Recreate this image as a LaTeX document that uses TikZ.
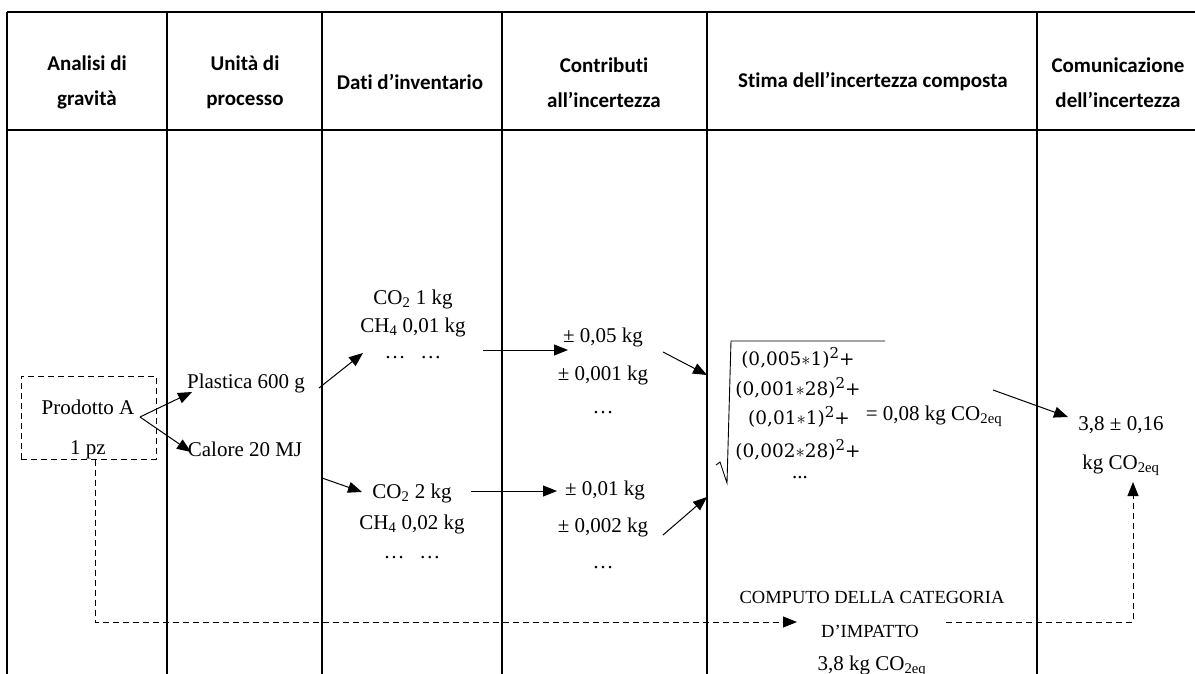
\RequirePackage{fix-cm}
\documentclass[tikz,border=0pt]{standalone}
\usepackage{fontspec}
\setmainfont{Liberation Serif}
\newfontfamily\hdfont[Ligatures=NoCommon]{Carlito}
\newfontfamily\formfont{DejaVu Serif}
\usetikzlibrary{arrows.meta,calc}
% squared exponent for the terms under the root
\newcommand\sqexp{{\fontsize{15}{15}\selectfont\raisebox{7pt}{2}}}
\begin{document}
\begin{tikzpicture}[x=1pt,y=-1pt,
  grid/.style={line width=1.8pt},
  hd/.style={font=\hdfont\bfseries\fontsize{21}{35}\selectfont, align=center, inner sep=0pt},
  tx/.style={font=\fontsize{21}{24}\selectfont, inner sep=0pt, text height=14pt, text depth=4pt},
  sm/.style={font=\fontsize{18.5}{22}\selectfont, inner sep=0pt, text height=14pt, text depth=4pt},
  mth/.style={font=\formfont\fontsize{18.5}{22}\selectfont, inner sep=0pt, text height=14pt, text depth=4pt},
  tip/.style={-{Triangle[length=14pt,width=11pt]}},
  arr/.style={line width=1pt, tip},
  dln/.style={line width=1pt, dash pattern=on 6pt off 4pt},
  darr/.style={dln, tip},
]
\useasboundingbox (0,0) rectangle (1195,674);
\clip (0,0) rectangle (1195,674);

% table frame
\draw[grid] (7,12) -- (1195,12);
\draw[grid] (7,130) -- (1195,130);
\foreach \x in {7,167,322,502,707,1037} \draw[grid] (\x,12) -- (\x,680);

% column headings
\node[hd] (h1) at (87,82.5)  {Analisi di\\gravità};
\node[hd] (h2) at (245,82.5) {Unità di\\processo};
\node[hd] (h3) at (410,82)   {Dati d’inventario};
\node[hd] (h4) at (604,82.5) {Contributi\\all’incertezza};
\node[hd] (h5) at (873,82)   {Stima dell’incertezza composta};
\node[hd] (h6) at (1118,82.5){Comunicazione\\dell’incertezza};

% product
\node[draw, dln, minimum width=135pt, minimum height=83pt, inner sep=0pt] (box) at (88.5,417.5) {};
\node[tx] (prodA) at (88,409) {Prodotto A};
\node[tx] (pz) at (88,449) {1 pz};

% process units
\node[tx] (plast) at (246,383) {Plastica 600 g};
\node[tx] (cal) at (245,451) {Calore 20 MJ};

% inventory data
\node[tx] (i1a) at (413,299) {CO\textsubscript{2} 1 kg};
\node[tx] (i1b) at (413,327) {CH\textsubscript{4} 0,01 kg};
\node[tx] (i1c) at (413,353) {…\hspace{0.7em}…};
\node[tx] (i2a) at (412,493) {CO\textsubscript{2} 2 kg};
\node[tx] (i2b) at (412,524) {CH\textsubscript{4} 0,02 kg};
\node[tx] (i2c) at (412,553) {…\hspace{0.7em}…};

% uncertainty contributions
\node[tx] (u1a) at (603,337) {± 0,05 kg};
\node[tx] (u1b) at (603,375) {± 0,001 kg};
\node[tx] (u1c) at (603,408) {…};
\node[tx] (u2a) at (605,490) {± 0,01 kg};
\node[tx] (u2b) at (603,527) {± 0,002 kg};
\node[tx] (u2c) at (603,563) {…};

% combined uncertainty
\node[mth] (f1) at (798,360) {(0,005$\ast$1)\sqexp+};
\node[mth] (f2) at (798,390) {(0,001$\ast$28)\sqexp+};
\node[mth] (f3) at (799,419) {(0,01$\ast$1)\sqexp+};
\node[mth] (f4) at (798,452) {(0,002$\ast$28)\sqexp+};
\node[tx] (f5) at (800,473) {...};
\draw[line width=0.9pt] (716,465) -- (720,462) -- (727,483) -- (731,341) -- (885,341);
\node[tx] (eq) at (934,415) {= 0,08 kg CO\textsubscript{2eq}};

% communication
\node[tx] (r1) at (1121,425) {3,8 ± 0,16};
\node[tx] (r2) at (1121,464) {kg CO\textsubscript{2eq}};

% impact category
\node[sm] (c1) at (872,598) {COMPUTO DELLA CATEGORIA};
\node[sm] (c2) at (870,632) {D’IMPATTO};
\node[tx] (c3) at (872,665) {3,8 kg CO\textsubscript{2eq}};

% flows
\coordinate (fork) at ($(prodA.center)+(52,8)$);
\draw[arr] (fork) -- ($(plast.center)+(-54,9)$);
\draw[arr] (fork) -- ($(cal.center)+(-54,1)$);
\draw[arr] ($(plast.center)+(73,5)$) -- ($(i1c.center)+(-50,0)$);
\draw[arr] ($(cal.center)+(77,27)$) -- ($(i2a.center)+(-50,-1)$);
\draw[arr] ($(i1c.center)+(70,-3)$) -- ($(u1a.center)+(-35,13)$);
\draw[arr] ($(i2a.center)+(59,-2)$) -- ($(u2a.center)+(-48,1)$);
\coordinate (sq1) at (707,375);
\coordinate (sq2) at (707,497);
\draw[arr] ($(u1a.center)+(60,15)$) -- (sq1);
\draw[arr] ($(u2b.center)+(60,8)$) -- (sq2);
\draw[arr] ($(eq.center)+(59,-25)$) -- ($(r1.center)+(-53,-8)$);

% impact path
\draw[darr] ($(box.south)+(6.5,0)$) |- ($(c2.center)+(-73,-10)$);
\draw[darr] ($(c2.center)+(76,-10)$) -| ($(r2.center)+(12,18)$);
\end{tikzpicture}
\end{document}
